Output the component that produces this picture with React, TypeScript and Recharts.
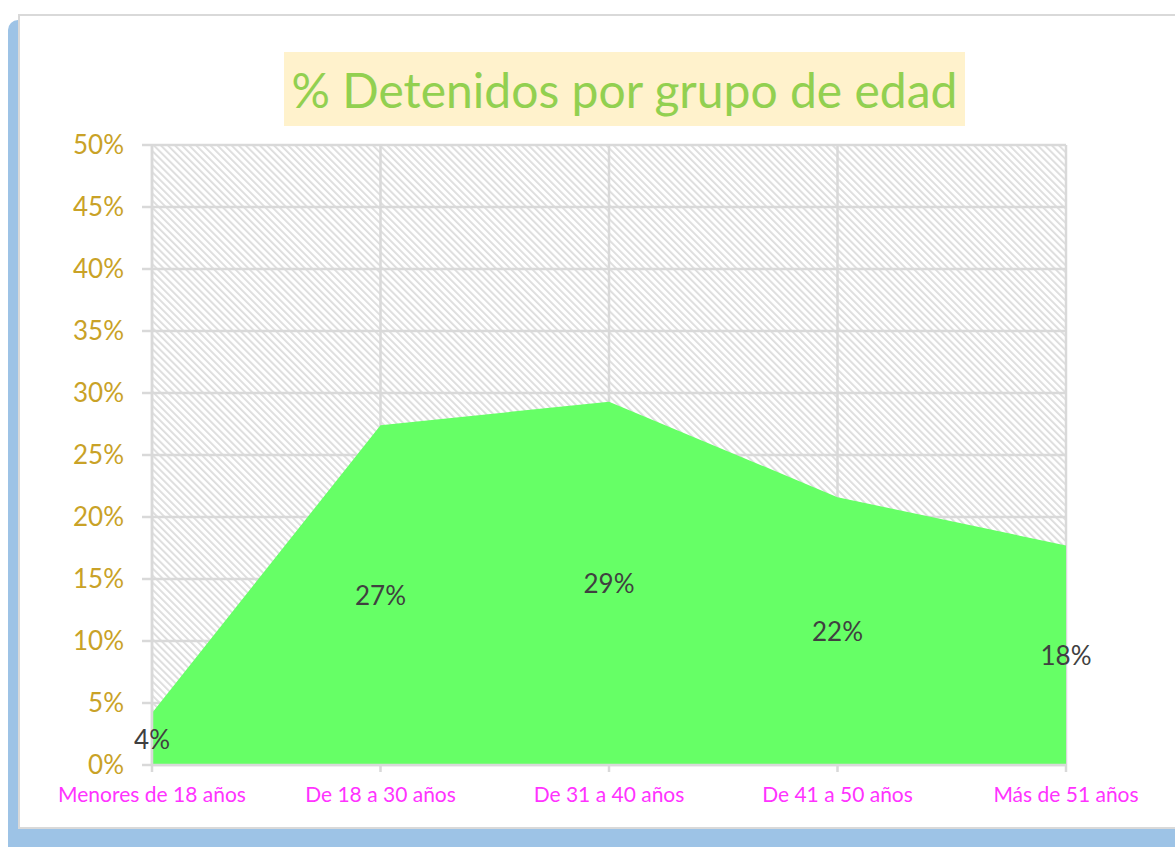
import React from 'react';
import { AreaChart, Area, XAxis, YAxis, CartesianGrid, LabelList } from 'recharts';

const categories = ['Menores de 18 años', 'De 18 a 30 años', 'De 31 a 40 años', 'De 41 a 50 años', 'Más de 51 años'];
const values = [4.2, 27.4, 29.3, 21.6, 17.7];
const yTicks = [0, 5, 10, 15, 20, 25, 30, 35, 40, 45, 50];
const title = '% Detenidos por grupo de edad';

const data = categories.map((name, i) => ({ name, value: values[i] }));

const W = 1175;
const H = 847;
const MARGIN = { top: 145, right: 109, left: 0, bottom: 52 };
const X_AXIS_H = 30;
const PLOT_BOTTOM = H - MARGIN.bottom - X_AXIS_H;
const FONT = 'Lato, "Open Sans", sans-serif';

const MidLabel = (props: any) => {
  const { x, y, value } = props;
  if (x == null || y == null) return null;
  return (
    <text
      x={x}
      y={(y + PLOT_BOTTOM) / 2}
      textAnchor="middle"
      dominantBaseline="central"
      fill="#404040"
      fontSize={26}
      fontFamily={FONT}
    >
      {Math.round(value)}%
    </text>
  );
};

export default function App() {
  return (
    <div style={{ position: 'absolute', left: 0, top: 0, width: W, height: H, overflow: 'hidden', background: '#fff' }}>
      <div style={{ position: 'absolute', left: 8, top: 20, width: W, height: H, background: '#9DC3E6', borderTopLeftRadius: 10 }} />
      <div style={{ position: 'absolute', left: 18, top: 14, width: W + 20, height: 815, background: '#fff', border: '2.5px solid #D9D9D9', boxSizing: 'border-box' }} />
      <div
        style={{
          position: 'absolute', left: 284, top: 52, width: 681, height: 74, background: '#FFF2CC',
          display: 'flex', alignItems: 'center', justifyContent: 'center',
          color: '#92D050', fontFamily: FONT, fontSize: 48, whiteSpace: 'nowrap',
        }}
      >
        {title}
      </div>
      <div style={{ position: 'absolute', left: 0, top: 0 }}>
        <AreaChart width={W} height={H} data={data} margin={MARGIN}>
          <defs>
            <pattern id="hatch" width="5" height="5" patternUnits="userSpaceOnUse" patternTransform="rotate(-45)">
              <rect x="0" y="0" width="5" height="5" fill="#ffffff" />
              <rect x="0" y="0" width="1.8" height="5" fill="#DCDCDC" />
            </pattern>
          </defs>
          <CartesianGrid stroke="#D9D9D9" strokeWidth={2.5} fill="url(#hatch)" fillOpacity={1} />
          <XAxis
            dataKey="name"
            height={X_AXIS_H}
            axisLine={{ stroke: '#D9D9D9', strokeWidth: 2.5 }}
            tickLine={{ stroke: '#D9D9D9', strokeWidth: 2.5 }}
            tickSize={7}
            tickMargin={15}
            interval={0}
            tick={{ fill: '#FF33FF', fontSize: 21, fontFamily: FONT }}
          />
          <YAxis
            width={152}
            domain={[0, 50]}
            ticks={yTicks}
            tickFormatter={(v: number) => `${v}%`}
            axisLine={{ stroke: '#D9D9D9', strokeWidth: 2.5 }}
            tickLine={{ stroke: '#D9D9D9', strokeWidth: 2.5 }}
            tickSize={10}
            tickMargin={18}
            tick={{ fill: '#C9A227', fontSize: 26, fontFamily: FONT }}
          />
          <Area
            type="linear"
            dataKey="value"
            stroke="none"
            fill="#66FF66"
            fillOpacity={1}
            isAnimationActive={false}
          >
            <LabelList dataKey="value" content={<MidLabel />} />
          </Area>
        </AreaChart>
      </div>
    </div>
  );
}
